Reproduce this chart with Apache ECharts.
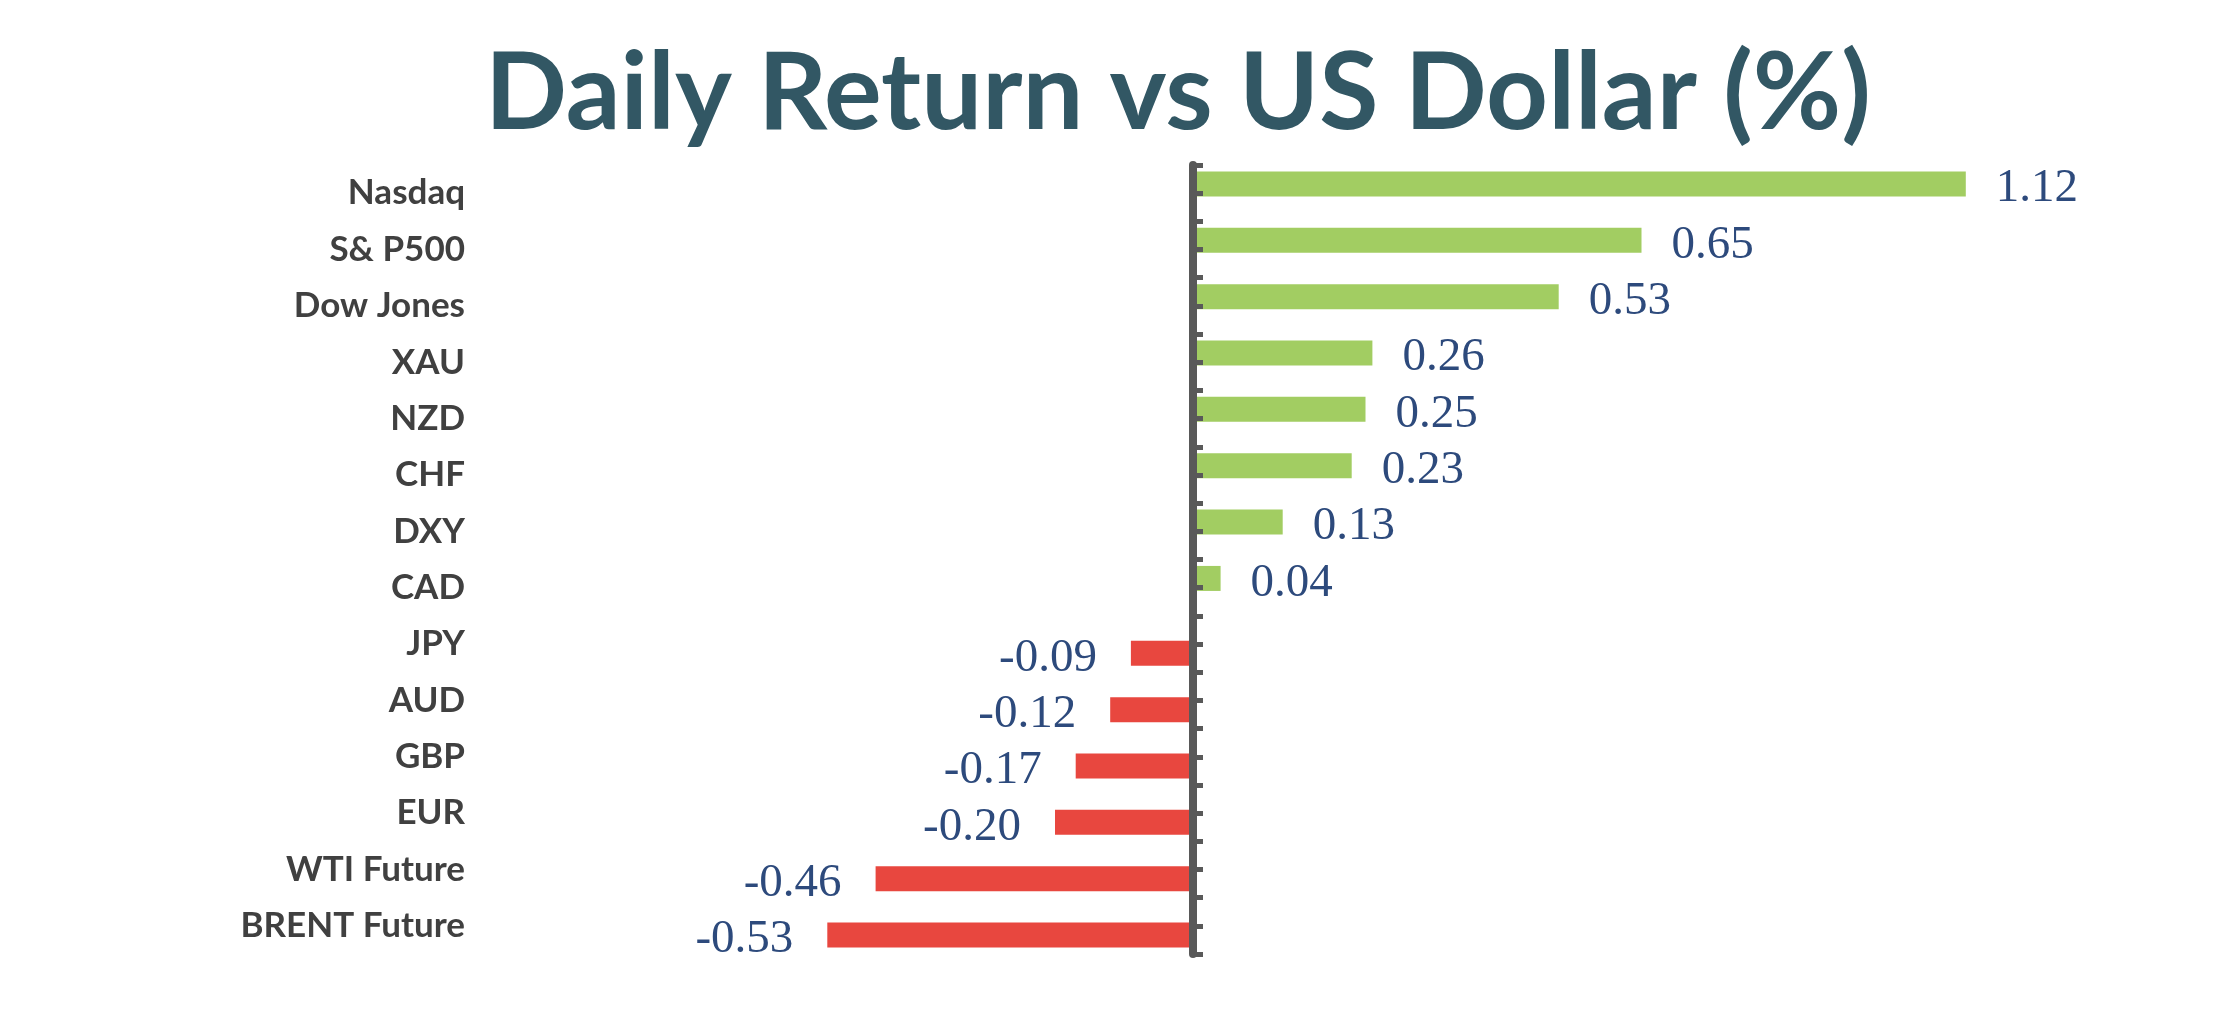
<!DOCTYPE html>
<html>
<head>
<meta charset="utf-8">
<title>Daily Return vs US Dollar (%)</title>
<script src="https://cdn.jsdelivr.net/npm/echarts@6/dist/echarts.min.js"></script>
<style>
    html, body { margin: 0; padding: 0; background: #fff; }
    #chart { width: 2230px; height: 1022px; }
</style>
</head>
<body>
<div id="chart"></div>
<script>
'use strict';

var categories = ['Nasdaq', 'S& P500', 'Dow Jones', 'XAU', 'NZD', 'CHF', 'DXY', 'CAD',
    'JPY', 'AUD', 'GBP', 'EUR', 'WTI Future', 'BRENT Future'];
var returns = [1.12, 0.65, 0.53, 0.26, 0.25, 0.23, 0.13, 0.04,
    -0.09, -0.12, -0.17, -0.20, -0.46, -0.53];

// split into gain / loss series, like the excel original
var gains = [],
    losses = [];
returns.forEach(function (v) {
    gains.push(v >= 0 ? v : '-');
    losses.push(v < 0 ? v : '-');
});

var fmt = function (p) {
    return p.value.toFixed(2);
};

var labelStyle = {
    show: true,
    fontFamily: 'Liberation Serif',
    fontSize: 47,
    color: '#2d4a7c',
    offset: [0, 5],
    formatter: fmt
};

var options = {
    animation: false,
    backgroundColor: '#ffffff',
    title: {
        text: 'Daily Return vs US Dollar (%)',
        left: 1173,
        top: 35,
        textAlign: 'center',
        textStyle: {
            fontFamily: 'Lato',
            fontWeight: 'bold',
            fontSize: 108,
            color: '#325764'
        }
    },
    grid: {
        left: 779,
        right: 209,
        top: 165,
        bottom: 68,
        containLabel: false
    },
    xAxis: {
        type: 'value',
        min: -0.6,
        max: 1.2,
        show: false
    },
    yAxis: [
        {
            type: 'category',
            inverse: true,
            data: categories,
            axisLine: { show: false },
            axisTick: { show: false },
            axisLabel: {
                margin: 314,
                fontFamily: 'Lato',
                fontWeight: 'bold',
                fontSize: 35,
                color: '#404040'
            }
        },
        {
            // the visible axis line at zero, with a tick every half band
            type: 'value',
            position: 'left',
            offset: -414,
            min: 0,
            max: 28,
            interval: 1,
            z: 10,
            axisLine: {
                show: true,
                lineStyle: { color: '#595959', width: 8 }
            },
            axisTick: {
                show: true,
                inside: true,
                length: 10,
                lineStyle: { color: '#595959', width: 5 }
            },
            axisLabel: { show: false },
            splitLine: { show: false }
        }
    ],
    series: [
        {
            name: 'gain',
            type: 'bar',
            yAxisIndex: 0,
            data: gains,
            barWidth: 25,
            barGap: '-26%',
            itemStyle: { color: '#a2cd62' },
            label: Object.assign({ position: 'right', distance: 30 }, labelStyle)
        },
        {
            name: 'loss',
            type: 'bar',
            yAxisIndex: 0,
            data: losses,
            barWidth: 25,
            barGap: '-26%',
            itemStyle: { color: '#e8473f' },
            label: Object.assign({ position: 'left', distance: 34 }, labelStyle)
        }
    ]
};

var myChart = echarts.init(document.getElementById('chart'));
myChart.setOption(options);
</script>
</body>
</html>
